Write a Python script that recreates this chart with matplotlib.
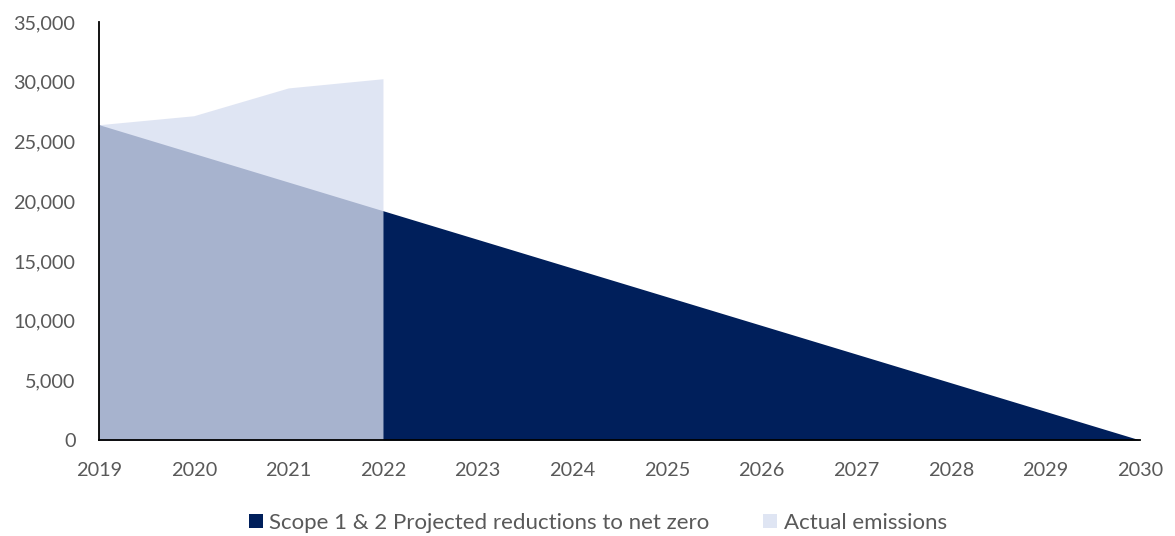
import matplotlib.pyplot as plt
from matplotlib.ticker import FuncFormatter

plt.rcParams['font.family'] = ['Lato', 'DejaVu Sans']

# data
years = [2019, 2020, 2021, 2022, 2023, 2024, 2025, 2026, 2027, 2028, 2029, 2030]
projected = [26400, 24000, 21600, 19200, 16800, 14400, 12000, 9600, 7200, 4800, 2400, 0]
actual_years = [2019, 2020, 2021, 2022]
actual = [26400, 27150, 29480, 30250]

fig = plt.figure(figsize=(11.75, 5.36), dpi=100)
ax = fig.add_axes([0.0843, 0.179, 0.886, 0.78])

ax.fill_between(years, projected, 0, color='#001F5B', linewidth=0,
                label='Scope 1 & 2 Projected reductions to net zero')
ax.fill_between(actual_years, actual, 0, color=(215/255, 222/255, 240/255),
                alpha=0.78, linewidth=0, label='Actual emissions')

ax.set_xlim(2019, 2030)
ax.set_ylim(0, 35000)
ax.set_xticks(years)
ax.set_yticks(range(0, 35001, 5000))
ax.yaxis.set_major_formatter(FuncFormatter(lambda v, p: f'{int(v):,}'))

for s in ['top', 'right']:
    ax.spines[s].set_visible(False)
for s in ['left', 'bottom']:
    ax.spines[s].set_color('black')
    ax.spines[s].set_linewidth(1.3)

ax.tick_params(axis='both', length=0, labelsize=14.3, colors='#595959')
ax.tick_params(axis='x', pad=16)
ax.tick_params(axis='y', pad=17)

leg = ax.legend(loc='center', bbox_to_anchor=(0.479, -0.198), ncol=2, frameon=False,
                fontsize=16, handlelength=0.63, handleheight=0.63,
                handletextpad=0.3, columnspacing=2.4)
for t in leg.get_texts():
    t.set_color('#595959')

fig.savefig('out.png', dpi=100)
